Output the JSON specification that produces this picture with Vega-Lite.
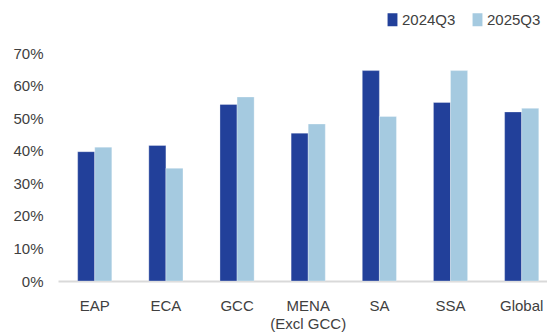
{
  "$schema": "https://vega.github.io/schema/vega-lite/v6.json",
  "width": 489,
  "height": 228,
  "autosize": {"type": "none"},
  "padding": {"left": 58, "top": 53, "right": 0, "bottom": 52},
  "background": "white",
  "data": {
    "values": [
      {"region": "EAP", "period": "2024Q3", "value": 0.397},
      {"region": "EAP", "period": "2025Q3", "value": 0.411},
      {"region": "ECA", "period": "2024Q3", "value": 0.416},
      {"region": "ECA", "period": "2025Q3", "value": 0.346},
      {"region": "GCC", "period": "2024Q3", "value": 0.542},
      {"region": "GCC", "period": "2025Q3", "value": 0.565},
      {"region": "MENA (Excl GCC)", "period": "2024Q3", "value": 0.454},
      {"region": "MENA (Excl GCC)", "period": "2025Q3", "value": 0.482},
      {"region": "SA", "period": "2024Q3", "value": 0.646},
      {"region": "SA", "period": "2025Q3", "value": 0.505},
      {"region": "SSA", "period": "2024Q3", "value": 0.548},
      {"region": "SSA", "period": "2025Q3", "value": 0.646},
      {"region": "Global", "period": "2024Q3", "value": 0.519},
      {"region": "Global", "period": "2025Q3", "value": 0.530}
    ]
  },
  "mark": {"type": "bar", "stroke": "white", "strokeWidth": 0.5, "strokeOpacity": 0.6},
  "encoding": {
    "x": {
      "field": "region",
      "type": "nominal",
      "sort": null,
      "scale": {"paddingInner": 0.52, "paddingOuter": 0.196, "align": 0.705},
      "axis": {
        "title": null,
        "labelAngle": 0,
        "ticks": false,
        "tickSize": 0,
        "domainColor": "#d9d9d9",
        "domainWidth": 2,
        "labelPadding": 17,
        "labelFont": "Liberation Sans",
        "labelFontSize": 15,
        "labelColor": "#404040",
        "labelLineHeight": 18,
        "labelExpr": "datum.value == 'MENA (Excl GCC)' ? ['MENA', '(Excl GCC)'] : datum.value"
      }
    },
    "xOffset": {"field": "period", "type": "nominal", "scale": {"paddingInner": 0, "paddingOuter": 0}},
    "y": {
      "field": "value",
      "type": "quantitative",
      "scale": {"domain": [0, 0.7], "nice": false},
      "axis": {
        "title": null,
        "values": [0, 0.1, 0.2, 0.3, 0.4, 0.5, 0.6, 0.7],
        "format": ".0%",
        "grid": false,
        "domain": false,
        "ticks": false,
        "tickSize": 0,
        "labelPadding": 15,
        "labelFont": "Liberation Sans",
        "labelFontSize": 15,
        "labelColor": "#404040"
      }
    },
    "color": {
      "field": "period",
      "type": "nominal",
      "scale": {"domain": ["2024Q3", "2025Q3"], "range": ["#22409A", "#A5CAE0"]},
      "legend": {
        "title": null,
        "orient": "none",
        "direction": "horizontal",
        "legendX": 327,
        "legendY": -41,
        "symbolType": "M-0.76,-1L0.76,-1L0.76,1L-0.76,1Z",
        "symbolSize": 169,
        "symbolStrokeWidth": 0,
        "symbolOpacity": 1,
        "labelOffset": 2,
        "columnPadding": 14,
        "labelFont": "Liberation Sans",
        "labelFontSize": 15,
        "labelColor": "#404040"
      }
    }
  },
  "config": {"view": {"stroke": null}}
}
